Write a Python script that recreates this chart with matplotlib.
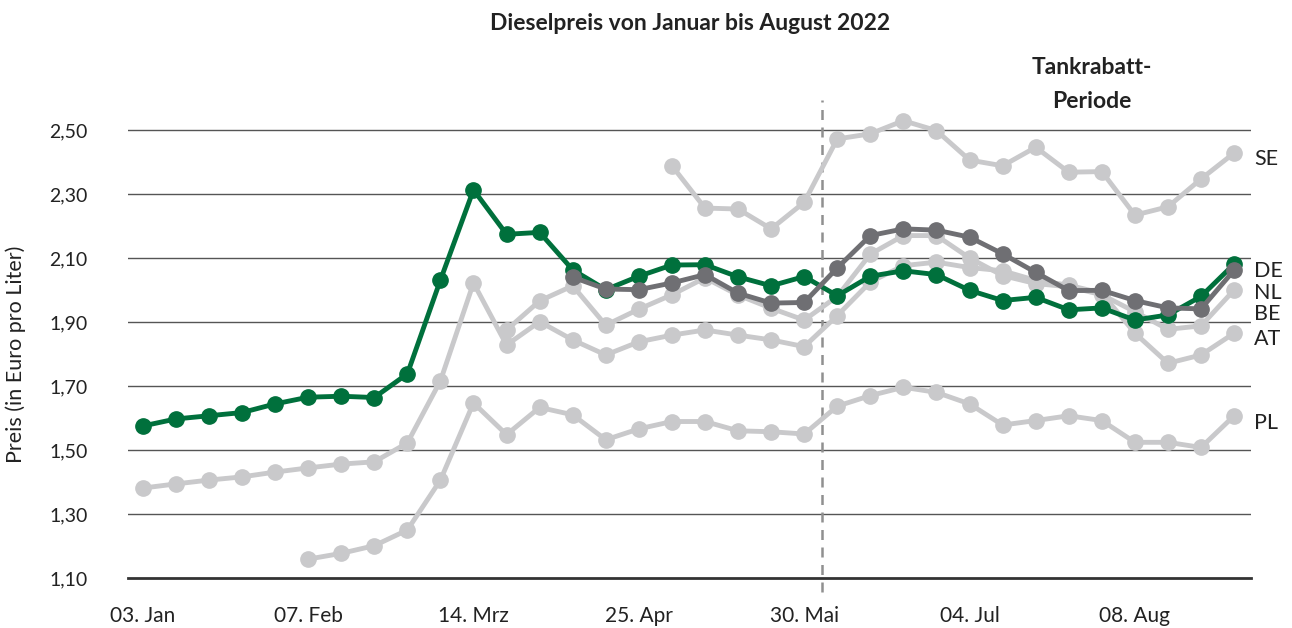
import matplotlib
matplotlib.use("Agg")
import matplotlib.pyplot as plt

# weekly dates (18. Apr missing in source data)
weeks = ["03. Jan", "10. Jan", "17. Jan", "24. Jan", "31. Jan",
         "07. Feb", "14. Feb", "21. Feb", "28. Feb", "07. Mrz",
         "14. Mrz", "21. Mrz", "28. Mrz", "04. Apr", "11. Apr",
         "25. Apr", "02. Mai", "09. Mai", "16. Mai", "23. Mai",
         "30. Mai", "06. Jun", "13. Jun", "20. Jun", "27. Jun",
         "04. Jul", "11. Jul", "18. Jul", "25. Jul", "01. Aug",
         "08. Aug", "15. Aug", "22. Aug", "29. Aug"]

de = [1.575, 1.597, 1.607, 1.617, 1.644, 1.665, 1.668, 1.664, 1.738, 2.031,
      2.313, 2.174, 2.180, 2.063, 2.001, 2.043, 2.078, 2.079, 2.041, 2.013,
      2.042, 1.982, 2.043, 2.060, 2.048, 1.999, 1.967, 1.977, 1.938, 1.944,
      1.906, 1.922, 1.980, 2.081]
nl = [None] * 13 + [2.040, 2.003, 2.001, 2.022, 2.048, 1.990, 1.959, 1.961,
      2.069, 2.170, 2.191, 2.187, 2.165, 2.113, 2.055, 1.998, 1.999, 1.967,
      1.944, 1.941, 2.062]
se = [None] * 16 + [2.388, 2.256, 2.253, 2.191, 2.274, 2.472, 2.488, 2.529,
      2.498, 2.406, 2.388, 2.446, 2.368, 2.370, 2.234, 2.260, 2.347, 2.428]
pl = [None] * 5 + [1.159, 1.177, 1.201, 1.250, 1.406, 1.647, 1.548, 1.633,
      1.610, 1.532, 1.566, 1.589, 1.589, 1.560, 1.557, 1.550, 1.637, 1.670,
      1.696, 1.680, 1.644, 1.578, 1.592, 1.607, 1.592, 1.524, 1.524, 1.508,
      1.607]
at = [1.381, 1.394, 1.406, 1.416, 1.431, 1.444, 1.456, 1.463, 1.522, 1.716,
      2.022, 1.828, 1.901, 1.844, 1.797, 1.838, 1.859, 1.875, 1.859, 1.844,
      1.823, 1.920, 2.025, 2.076, 2.087, 2.070, 2.060, 2.030, 2.015, 1.990,
      1.865, 1.771, 1.797, 1.865]
be = [None] * 11 + [1.875, 1.966, 2.013, 1.890, 1.940, 1.985, 2.038, 1.984,
      1.943, 1.906, 1.980, 2.112, 2.170, 2.170, 2.100, 2.045, 2.020, 2.010,
      1.985, 1.932, 1.877, 1.888, 2.000]

labels = ["SE", "DE", "NL", "BE", "AT", "PL"]
label_y = [2.41, 2.06, 1.991, 1.925, 1.847, 1.585]

GREEN = "#00703c"
DARK = "#6f6f73"
LIGHT = "#c9c9cb"
TXT = "#222222"

plt.rcParams["font.family"] = ["Lato", "DejaVu Sans"]

fig = plt.figure(figsize=(12.92, 6.28), dpi=100)
ax = fig.add_axes([0.099, 0.0796, 0.869, 0.7644])

x = list(range(len(weeks)))


def line(vals, color, z):
    xs = [i for i, v in zip(x, vals) if v is not None]
    ys = [v for v in vals if v is not None]
    ax.plot(xs, ys, color=color, lw=3.5, marker="o", ms=11,
            solid_joinstyle="round", zorder=z)


for s in [se, pl, at, be]:
    line(s, LIGHT, 2)
line(de, GREEN, 4)
line(nl, DARK, 5)

ax.set_xlim(-0.45, 33.5)
ax.set_ylim(1.10, 2.60)
yt = [1.10, 1.30, 1.50, 1.70, 1.90, 2.10, 2.30, 2.50]
ax.set_yticks(yt)
ax.set_yticklabels([f"{v:.2f}".replace(".", ",") for v in yt])
ax.set_xticks(x[::5])
ax.set_xticklabels(weeks[::5])
for v in yt[1:]:
    ax.axhline(v, color="#555555", lw=1.0, zorder=1)
ax.tick_params(axis="y", length=0, pad=29, labelsize=14, labelcolor=TXT)
ax.tick_params(axis="x", length=0, pad=20, labelsize=15, labelcolor=TXT)
for sp in ["top", "right", "left"]:
    ax.spines[sp].set_visible(False)
ax.spines["bottom"].set_color("#333333")
ax.spines["bottom"].set_linewidth(2)
ax.spines["bottom"].set_zorder(1)

ax.set_ylabel("Preis (in Euro pro Liter)", fontsize=15.5, color=TXT)
ax.yaxis.set_label_coords(-0.0905, 0.465)

# Tankrabatt start (1. Juni)
ax.vlines(20.55, 1.055, 2.595, colors="#909090", linestyles=(0, (4, 3)),
          lw=1.8, clip_on=False, zorder=1)

for lab, yv in zip(labels, label_y):
    ax.text(33.6, yv, lab, fontsize=15.5, color=TXT, va="center", ha="left")

fig.text(0.534, 0.963, "Dieselpreis von Januar bis August 2022",
         ha="center", va="center", fontsize=16.5, fontweight="bold", color=TXT)
fig.text(0.845, 0.893, "Tankrabatt-", ha="center", va="center",
         fontsize=16.5, fontweight="bold", color=TXT)
fig.text(0.845, 0.839, "Periode", ha="center", va="center",
         fontsize=16.5, fontweight="bold", color=TXT)

fig.savefig("out.png", dpi=100)
